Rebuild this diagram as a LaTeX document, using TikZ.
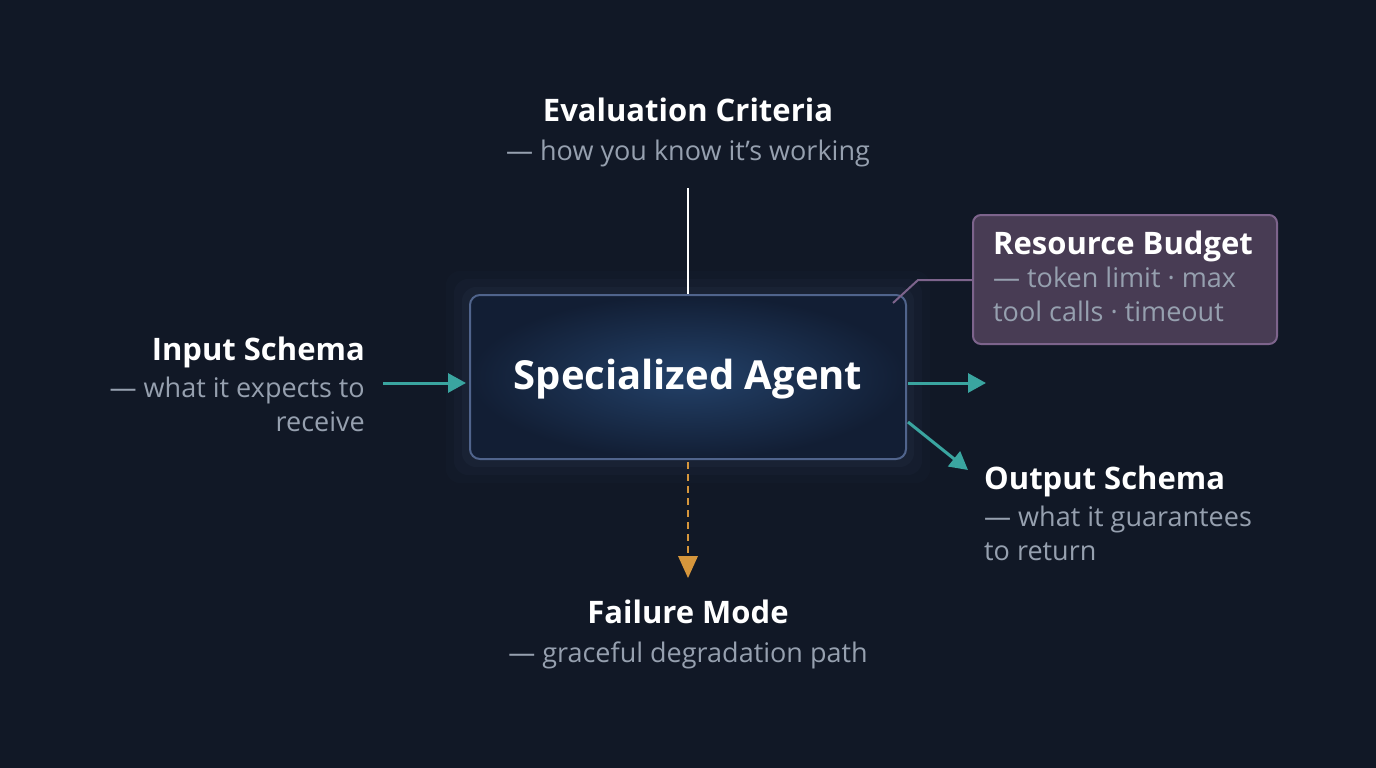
\documentclass[tikz,border=0pt]{standalone}
\usepackage{fontspec}
\setmainfont{Open Sans}
\usetikzlibrary{arrows.meta}
\definecolor{bg}{RGB}{17,24,38}
\definecolor{sub}{RGB}{150,160,175}
\definecolor{teal}{RGB}{58,165,160}
\definecolor{org}{RGB}{214,150,60}
\definecolor{boxb}{RGB}{80,100,140}
\definecolor{boxin}{RGB}{35,65,105}
\definecolor{boxout}{RGB}{18,30,52}
\definecolor{purf}{RGB}{72,60,84}
\definecolor{purb}{RGB}{125,100,140}
\begin{document}
\begin{tikzpicture}[x=1pt,y=-1pt,
 title/.style={font=\fontsize{31}{36}\selectfont\bfseries,text=white,inner sep=0},
 subt/.style={font=\fontsize{27}{34}\selectfont,text=sub,inner sep=0},
 arr/.style={teal,line width=3pt,-{Triangle[length=18pt,width=19pt]}}]
\fill[bg] (0,0) rectangle (1376,768);
\useasboundingbox (0,0) rectangle (1376,768);
% glow
\foreach \i/\o in {24/0.03,16/0.05,8/0.07}
  \fill[boxb,opacity=\o,rounded corners=14pt] (470-\i,295-\i) rectangle (906+\i,459+\i);
\node[draw=boxb,line width=2pt,rounded corners=10pt,inner color=boxin,outer color=boxout,
  minimum width=436pt,minimum height=164pt] (agent) at (688,377) {};
\node[font=\fontsize{40}{44}\selectfont\bfseries,text=white] (agentt) at (688,379) {Specialized Agent};
% evaluation
\node[title] (ev) at (688,110) {Evaluation Criteria};
\node[subt] (evs) at (688,153) {— how you know it’s working};
\coordinate (evl) at (688,188);
\draw[white,line width=2pt] (evl) -- (agent.north);
% input
\node[title,anchor=east] (in) at (365,352) {Input Schema};
\node[subt,anchor=north east,align=right] (ins) at (365,377) {— what it expects to\\receive};
\coordinate (ina) at (383,383);
\coordinate (inb) at (466,383);
\draw[arr] (ina) -- (inb);
% right arrow
\coordinate (ra) at (908,383);
\coordinate (rb) at (986,383);
\draw[arr] (ra) -- (rb);
% output
\coordinate (oa) at (908,422);
\coordinate (ob) at (968,470);
\draw[arr] (oa) -- (ob);
\node[title,anchor=west] (out) at (984,481) {Output Schema};
\node[subt,anchor=north west,align=left] (outs) at (984,506) {— what it guarantees\\to return};
% failure
\coordinate (fa) at (688,462);
\coordinate (fb) at (688,578);
\draw[org,line width=2.5pt,dash pattern=on 7pt off 5pt] (fa) -- (688,560);
\fill[org] (678,556) -- (698,556) -- (688,578) -- cycle;
\node[title] (fm) at (688,612) {Failure Mode};
\node[subt] (fms) at (688,655) {— graceful degradation path};
% resource
\node[draw=purb,fill=purf,line width=2pt,rounded corners=8pt,minimum width=304pt,minimum height=129pt] (rb) at (1125,279.5) {};
\node[title,anchor=west] (rbt) at (993,246) {Resource Budget};
\node[subt,anchor=north west,align=left] (rbs) at (993,267) {— token limit · max\\tool calls · timeout};
\coordinate (rc) at (893,303);
\draw[purb,line width=2pt] (rc) -- (918,280) -- (rb.west |- 0,280);
\end{tikzpicture}
\end{document}
